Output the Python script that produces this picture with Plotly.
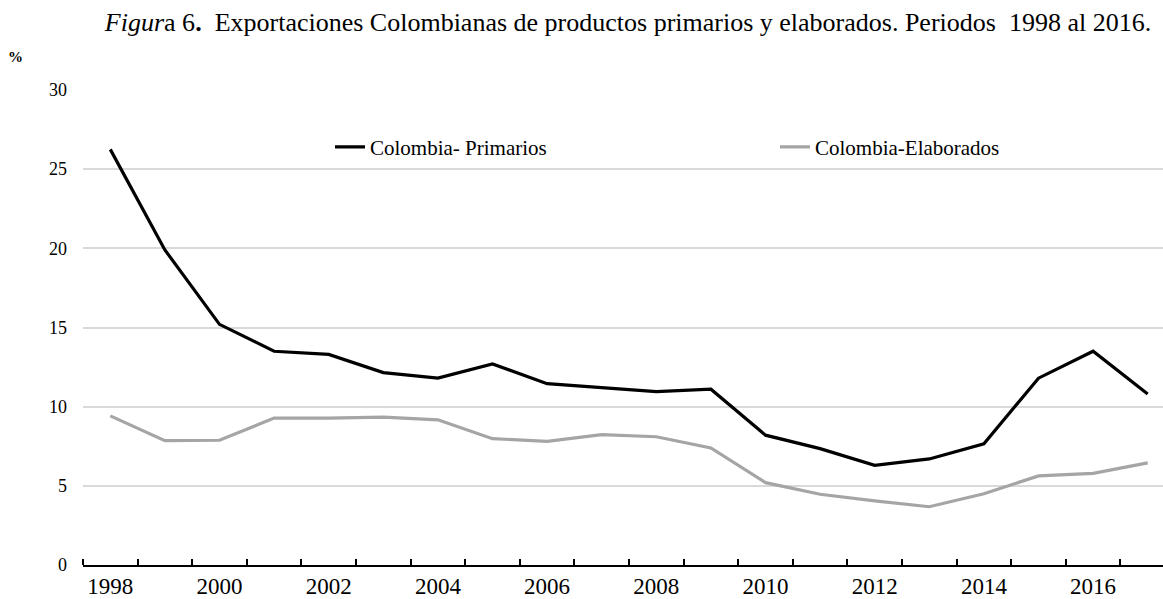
import plotly.graph_objects as go

years = list(range(1998, 2018))
primarios = [26.25, 19.9, 15.2, 13.5, 13.3, 12.15, 11.8, 12.7, 11.45, 11.2,
             10.95, 11.1, 8.2, 7.35, 6.3, 6.7, 7.65, 11.8, 13.5, 10.8]
elaborados = [9.42, 7.85, 7.88, 9.28, 9.28, 9.34, 9.17, 7.98, 7.81, 8.23,
              8.1, 7.39, 5.2, 4.47, 4.05, 3.68, 4.5, 5.63, 5.79, 6.45]
year_labels = [str(y) for y in range(1998, 2017, 2)]
y_ticks = [0, 5, 10, 15, 20, 25, 30]

FONT = "Liberation Serif, Times New Roman, serif"
PLOT_L, PLOT_W = 83, 1080
PLOT_BOTTOM, PLOT_H = 567.5, 477


def px_to_paper_x(px):
    return (px - PLOT_L) / PLOT_W


def px_to_paper_y(py):
    return (PLOT_BOTTOM - py) / PLOT_H


fig = go.Figure()
fig.add_trace(go.Scatter(
    x=years, y=primarios, mode="lines", name="Colombia- Primarios",
    line=dict(color="#000000", width=3.2), legend="legend",
))
fig.add_trace(go.Scatter(
    x=years, y=elaborados, mode="lines", name="Colombia-Elaborados",
    line=dict(color="#A5A5A5", width=3.2), legend="legend2",
))

legend_common = dict(
    orientation="h", xanchor="left", yanchor="middle",
    font=dict(family=FONT, size=21, color="#000000"),
    bgcolor="rgba(0,0,0,0)", borderwidth=0,
)

fig.update_layout(
    width=1163, height=599,
    margin=dict(l=PLOT_L, r=0, t=90, b=31),
    paper_bgcolor="white", plot_bgcolor="white",
    font=dict(family=FONT, color="#000000"),
    title=dict(
        text="<i>Figur</i>a 6<b>.</b>\u00a0 Exportaciones Colombianas de productos primarios y elaborados. Periodos\u00a0 1998 al 2016.",
        x=0.54, xref="container", xanchor="center",
        y=1 - 22 / 599, yref="container", yanchor="middle",
        font=dict(family=FONT, size=26, color="#000000"),
    ),
    legend=dict(x=px_to_paper_x(330), y=px_to_paper_y(148), **legend_common),
    legend2=dict(x=px_to_paper_x(775), y=px_to_paper_y(148), **legend_common),
    showlegend=True,
)

fig.update_xaxes(
    range=[1997.5, 1997.5 + PLOT_W / 54.6],
    tickmode="array", tickvals=[int(v) for v in year_labels], ticktext=year_labels,
    ticks="", showgrid=False, zeroline=False,
    showline=True, linecolor="#000000", linewidth=1.5,
    tickfont=dict(family=FONT, size=23, color="#000000"),
    minor=dict(
        tickmode="array", tickvals=[y - 0.5 for y in years],
        ticks="inside", ticklen=6, tickwidth=1.5, tickcolor="#000000",
        showgrid=False,
    ),
)

fig.update_yaxes(
    range=[0, 30], tickmode="array", tickvals=y_ticks,
    showgrid=True, gridcolor="#D9D9D9", gridwidth=1.5,
    zeroline=False, showline=False, ticks="",
    ticklabelstandoff=15,
    tickfont=dict(family=FONT, size=18, color="#000000"),
)

fig.add_annotation(
    text="<b>%</b>", xref="paper", yref="paper",
    x=px_to_paper_x(15), y=px_to_paper_y(57),
    xanchor="center", yanchor="middle", showarrow=False,
    font=dict(family=FONT, size=15, color="#000000"),
)

fig.write_html("out.html")
